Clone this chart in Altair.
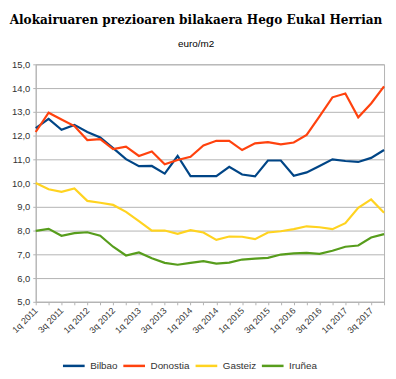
import altair as alt
import pandas as pd

quarters = ["1q 2011", "2q 2011", "3q 2011", "4q 2011",
            "1q 2012", "2q 2012", "3q 2012", "4q 2012",
            "1q 2013", "2q 2013", "3q 2013", "4q 2013",
            "1q 2014", "2q 2014", "3q 2014", "4q 2014",
            "1q 2015", "2q 2015", "3q 2015", "4q 2015",
            "1q 2016", "2q 2016", "3q 2016", "4q 2016",
            "1q 2017", "2q 2017", "3q 2017", "4q 2017"]

bilbao = [12.31, 12.70, 12.24, 12.45, 12.15, 11.92, 11.47, 11.01, 10.71, 10.72,
          10.40, 11.14, 10.29, 10.29, 10.29, 10.68, 10.36, 10.28, 10.95, 10.95,
          10.31, 10.45, 10.72, 11.00, 10.93, 10.89, 11.06, 11.39]
donostia = [12.15, 12.96, 12.68, 12.40, 11.81, 11.85, 11.43, 11.53, 11.14, 11.33,
            10.79, 10.97, 11.11, 11.58, 11.78, 11.78, 11.39, 11.67, 11.72, 11.63,
            11.71, 12.03, 12.81, 13.61, 13.77, 12.77, 13.35, 14.07]
gasteiz = [10.00, 9.74, 9.63, 9.77, 9.25, 9.17, 9.08, 8.79, 8.40, 8.00,
           8.00, 7.86, 8.02, 7.92, 7.61, 7.75, 7.74, 7.64, 7.92, 7.97,
           8.06, 8.18, 8.14, 8.06, 8.31, 8.96, 9.31, 8.75]
irunea = [7.99, 8.07, 7.78, 7.89, 7.93, 7.78, 7.32, 6.95, 7.08, 6.83,
          6.64, 6.56, 6.64, 6.71, 6.61, 6.65, 6.78, 6.82, 6.85, 6.99,
          7.04, 7.06, 7.02, 7.15, 7.32, 7.37, 7.71, 7.85]

cities = ["Bilbao", "Donostia", "Gasteiz", "Iruñea"]
colors = ["#004586", "#ff420e", "#ffd320", "#579d1c"]

rows = []
for city, vals in zip(cities, [bilbao, donostia, gasteiz, irunea]):
    for q, v in zip(quarters, vals):
        rows.append({"quarter": q, "city": city, "value": v})
df = pd.DataFrame(rows)

label_values = quarters[::2]

chart = alt.Chart(df).mark_line(strokeWidth=2.2).encode(
    x=alt.X("quarter:N", sort=quarters,
            scale=alt.Scale(type="point", padding=0),
            axis=alt.Axis(title=None, labelAngle=-45, labelAlign="right",
                          labelBaseline="middle", labelFont="Liberation Sans",
                          labelFontSize=9, labelColor="#333333", labelPadding=4,
                          labelExpr="indexof(['" + "','".join(label_values) + "'], datum.value) >= 0 ? datum.value : ''",
                          labelOverlap=False,
                          tickSize=3, tickColor="#b3b3b3", domainColor="#b3b3b3",
                          grid=False)),
    y=alt.Y("value:Q", scale=alt.Scale(domain=[5, 15], nice=False),
            axis=alt.Axis(title=None, values=[5, 6, 7, 8, 9, 10, 11, 12, 13, 14, 15],
                          labelExpr="replace(format(datum.value, '.1f'), '.', ',')",
                          labelFont="Liberation Sans", labelFontSize=9.5,
                          labelColor="#333333", labelPadding=3,
                          tickSize=3, tickColor="#b3b3b3", domainColor="#b3b3b3",
                          gridColor="#b3b3b3", gridWidth=1)),
    color=alt.Color("city:N", sort=cities,
                    scale=alt.Scale(domain=cities, range=colors),
                    legend=alt.Legend(title=None, orient="none", direction="horizontal",
                                      legendX=26, legendY=292, symbolType="stroke",
                                      symbolSize=480, symbolStrokeWidth=2.5,
                                      labelFont="Liberation Sans", labelFontSize=10,
                                      labelColor="#333333", columnPadding=0,
                                      labelOffset=4)),
).properties(
    width=352, height=240,
    title=alt.TitleParams(text="Alokairuaren prezioaren bilakaera Hego Eukal Herrian",
                          subtitle="euro/m2", font="DejaVu Serif", fontSize=12.2,
                          fontWeight="bold", color="#000000",
                          subtitleFont="Liberation Sans", subtitleFontSize=10,
                          subtitleColor="#000000", subtitlePadding=14,
                          anchor="middle", dx=-14, offset=10),
    autosize=alt.AutoSizeParams(type="none"),
    padding={"left": 28, "top": 55, "right": 4, "bottom": 68},
).configure_view(stroke="#b3b3b3", strokeWidth=1)

chart.save("out.html", embed_options={"renderer": "svg", "actions": False})
